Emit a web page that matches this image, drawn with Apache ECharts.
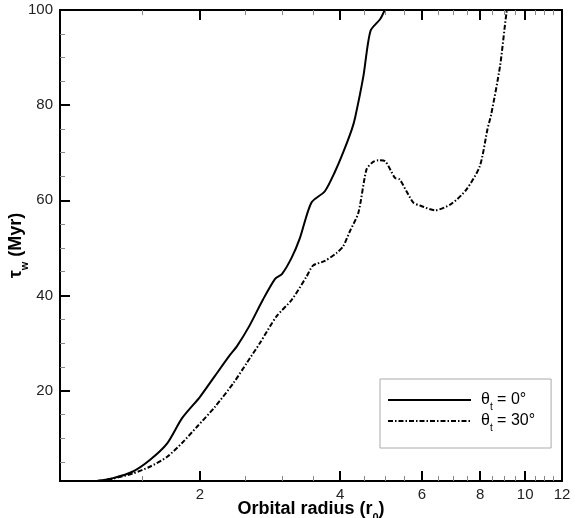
<!DOCTYPE html>
<html><head><meta charset="utf-8">
<script src="https://cdn.jsdelivr.net/npm/echarts@6/dist/echarts.min.js"></script>
<style>html,body{margin:0;padding:0;background:#fff}#c{width:575px;height:518px}</style>
</head><body><div id="c"></div>
<script>
// ---- data ----
const seriesNames = ['θt = 0°', 'θt = 30°'];
const radius0 = [1.2, 1.3, 1.435, 1.56, 1.70, 1.83, 2.0, 2.15, 2.32, 2.40, 2.55, 2.73, 2.9, 3.0, 3.15, 3.28, 3.47, 3.71, 3.9, 4.06, 4.24, 4.31, 4.49, 4.65, 4.88, 5.0];
const tau0 = [1.0, 1.6, 3.0, 5.4, 8.9, 14.2, 18.7, 23, 27.5, 29.3, 33.5, 39.1, 43.5, 44.5, 48, 52.1, 59.5, 61.9, 66, 70, 74.9, 77.4, 86.1, 95.6, 98.1, 100.2];
const radius30 = [1.2, 1.3, 1.435, 1.56, 1.70, 1.83, 1.97, 2.15, 2.36, 2.52, 2.69, 2.92, 3.15, 3.39, 3.50, 3.70, 3.93, 4.06, 4.2, 4.38, 4.56, 4.70, 4.83, 5.0, 5.25, 5.37, 5.55, 5.75, 5.94, 6.40, 6.95, 7.48, 7.99, 8.3, 8.45, 8.83, 9.12, 9.2];
const tau30 = [1.0, 1.5, 2.6, 4.0, 6.1, 9.0, 12.4, 16.5, 21.6, 25.8, 30, 35.6, 39.1, 44, 46.3, 47.2, 48.9, 50.3, 53.5, 57.4, 66.5, 68.0, 68.4, 68.2, 64.7, 64.4, 62, 59.5, 58.9, 57.9, 59.3, 62.3, 67.2, 75, 78, 88.2, 99.5, 100.5];
const xMajorTicks = [2, 4, 6, 8, 10, 12];
const xMinorTicks = [1.5, 2.5, 3, 3.5, 4.5, 5, 5.5, 6.5, 7, 7.5, 8.5, 9, 9.5, 10.5, 11, 11.5];
const yMajorTicks = [20, 40, 60, 80, 100];
const yMinorTicks = [5, 10, 15, 25, 30, 35, 45, 50, 55, 65, 70, 75, 85, 90, 95];
const xRange = [1, 12];
const yRange = [1, 100];
const xTitle = ['Orbital radius (r', '0', ')'];
const yTitle = ['τ', 'w', ' (Myr)'];

// ---- chart ----
const FONT = '"Liberation Sans", Arial, Helvetica, sans-serif';
const lx = v => Math.log10(v);
const chart = echarts.init(document.getElementById('c'), null, {renderer: 'canvas'});

function xTickAxis(pos, values, len, width, color, showLabel, extra) {
  return Object.assign({
    type: 'value', position: pos, gridIndex: 0,
    min: lx(xRange[0]), max: lx(xRange[1]), silent: true,
    axisLine: {show: true, onZero: false, lineStyle: {color: '#000', width: 2}},
    axisTick: {show: true, inside: true, length: len, customValues: values.map(lx), lineStyle: {color: color, width: width}},
    axisLabel: {show: showLabel, customValues: values.map(lx), margin: 6, color: '#222', fontSize: 15, fontFamily: FONT,
      formatter: v => String(Math.round(Math.pow(10, v)))},
    splitLine: {show: false}
  }, extra || {});
}
function yTickAxis(pos, values, len, width, color, showLabel, extra) {
  return Object.assign({
    type: 'value', position: pos, gridIndex: 0,
    min: yRange[0], max: yRange[1], silent: true,
    axisLine: {show: true, onZero: false, lineStyle: {color: '#000', width: 2}},
    axisTick: {show: true, inside: true, length: len, customValues: values, lineStyle: {color: color, width: width}},
    axisLabel: {show: showLabel, customValues: values, margin: 7, color: '#222', fontSize: 15, fontFamily: FONT},
    splitLine: {show: false}
  }, extra || {});
}

const titleRich = {
  b: {fontSize: 18, fontWeight: 'bold', fontFamily: FONT, color: '#000', lineHeight: 22},
  s: {fontSize: 11, fontWeight: 'bold', fontFamily: FONT, color: '#000', lineHeight: 22, verticalAlign: 'bottom', padding: [0, 0, -3, 0]}
};

const option = {
  animation: false,
  backgroundColor: '#fff',
  grid: {left: 60, right: 13, top: 10, bottom: 37, outerBoundsMode: 'none', containLabel: false,
         show: true, borderColor: '#000', borderWidth: 2, backgroundColor: 'transparent'},
  xAxis: [
    {type: 'log', logBase: 10, min: xRange[0], max: xRange[1], position: 'bottom',
     axisLine: {show: false, onZero: false}, axisTick: {show: false}, axisLabel: {show: false}, splitLine: {show: false}, minorTick: {show: false}},
    xTickAxis('bottom', xMajorTicks, 10, 2, '#000', true, {
      name: `{b|${xTitle[0]}}{s|${xTitle[1]}}{b|${xTitle[2]}}`, nameLocation: 'middle', nameGap: 17, nameMoveOverlap: false,
      nameTextStyle: {rich: titleRich, verticalAlign: 'top'}
    }),
    xTickAxis('bottom', xMinorTicks, 5, 1, '#888', false),
    xTickAxis('top', xMajorTicks, 10, 2, '#000', false),
    xTickAxis('top', xMinorTicks, 5, 1, '#888', false)
  ],
  yAxis: [
    yTickAxis('left', yMajorTicks, 10, 2, '#000', true, {
      name: `{b|${yTitle[0]}}{s|${yTitle[1]}}{b|${yTitle[2]}}`, nameLocation: 'middle', nameGap: 33, nameRotate: 90, nameMoveOverlap: false,
      nameTextStyle: {rich: titleRich}
    }),
    yTickAxis('left', yMinorTicks, 5, 1, '#888', false),
    {type: 'value', position: 'right', min: yRange[0], max: yRange[1],
     axisLine: {show: true, onZero: false, lineStyle: {color: '#000', width: 2}}, axisTick: {show: false}, axisLabel: {show: false}, splitLine: {show: false}}
  ],
  legend: {
    left: 380, top: 379, orient: 'vertical', selectedMode: false,
    itemWidth: 83, itemHeight: 12, itemGap: 1,
    padding: [13, 16, 15, 7],
    backgroundColor: '#fff', borderColor: '#aaa', borderWidth: 1, borderRadius: 0,
    itemStyle: {opacity: 0},
    data: seriesNames,
    formatter: n => `{a|${n[0]}}{s|${n[1]}}{a|${n.slice(2)}}`,
    textStyle: {
      fontFamily: FONT, fontSize: 16, color: '#000', padding: [0, 0, 0, 5],
      rich: {
        a: {fontSize: 16, fontFamily: FONT, color: '#000', lineHeight: 18},
        s: {fontSize: 10, fontFamily: FONT, color: '#000', lineHeight: 18, verticalAlign: 'bottom', padding: [0, 0, -3, 0]}
      }
    }
  },
  series: [
    {name: seriesNames[0], type: 'line', xAxisIndex: 0, yAxisIndex: 0, symbol: 'none', smooth: 0.25, clip: true,
     itemStyle: {color: '#000'},
     lineStyle: {color: '#000', width: 2, type: 'solid'},
     data: radius0.map((r, i) => [r, tau0[i]])},
    {name: seriesNames[1], type: 'line', xAxisIndex: 0, yAxisIndex: 0, symbol: 'none', smooth: 0.25, clip: true,
     itemStyle: {color: '#000'},
     lineStyle: {color: '#000', width: 2, type: [5, 2, 1.5, 2]},
     data: radius30.map((r, i) => [r, tau30[i]])}
  ]
};
chart.setOption(option);
</script>
</body></html>
